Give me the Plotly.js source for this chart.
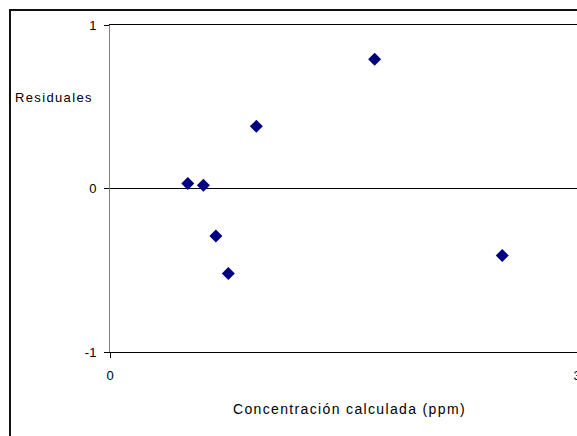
<!DOCTYPE html>
<html>
<head>
<meta charset="utf-8">
<script src="https://cdn.plot.ly/plotly-3.0.1.min.js"></script>
<style>
html,body{margin:0;padding:0;background:#fff;overflow:hidden;}
#wrap{position:relative;width:577px;height:436px;overflow:hidden;}
#chart{width:577px;height:436px;}
#frame{position:absolute;left:9px;top:9px;width:600px;height:500px;border-left:2px solid #111;border-top:2px solid #111;pointer-events:none;}
.annotation-text{letter-spacing:1.35px;}
</style>
</head>
<body>
<div id="wrap">
<div id="chart"></div>
<div id="frame"></div>
</div>
<script>
// Residual plot data
const concentracion = [0.50, 0.60, 0.68, 0.76, 0.94, 1.70, 2.52];
const residuales    = [0.03, 0.02, -0.29, -0.52, 0.38, 0.79, -0.41];
const xTickVals = [0, 3];
const yTickVals = [-1, 0, 1];
const xTitle = 'Concentración calculada (ppm)';
const yTitle = 'Residuales';

const FONT = 'Liberation Sans, Arial, sans-serif';

const trace = {
  x: concentracion,
  y: residuales,
  type: 'scatter',
  mode: 'markers',
  marker: {symbol: 'diamond', size: 10, color: '#000080', line: {width: 0}},
  hoverinfo: 'skip',
  cliponaxis: false
};

// pixel -> paper helpers (plot area: x 110..577, y 25..352)
const px2x = p => (p - 110) / 467;
const py2y = p => (352 - p) / 327;

const layout = {
  width: 577,
  height: 436,
  margin: {l: 110, r: 0, t: 25, b: 84, pad: 0},
  paper_bgcolor: '#ffffff',
  plot_bgcolor: '#ffffff',
  showlegend: false,
  font: {family: FONT, size: 13, color: '#000'},
  xaxis: {
    range: [0, 3],
    tickvals: xTickVals,
    ticktext: xTickVals.map(String),
    ticks: 'outside',
    ticklen: 5,
    tickcolor: '#000',
    tickwidth: 1,
    showline: true,
    mirror: true,
    linecolor: '#000',
    linewidth: 1,
    showgrid: false,
    zeroline: false,
    tickfont: {family: FONT, size: 13, color: '#000'},
    ticklabelstandoff: 6,
    ticklabeloverflow: 'allow',
    fixedrange: true
  },
  yaxis: {
    range: [-1, 1],
    tickvals: yTickVals,
    ticktext: yTickVals.map(String),
    ticks: 'outside',
    ticklen: 5,
    tickcolor: '#000',
    tickwidth: 1,
    showline: true,
    linecolor: '#808080',
    linewidth: 1,
    showgrid: true,
    gridcolor: '#000',
    gridwidth: 1,
    zeroline: true,
    zerolinecolor: '#000',
    zerolinewidth: 1,
    tickfont: {family: FONT, size: 13, color: '#000'},
    ticklabelstandoff: 5,
    ticklabeloverflow: 'allow',
    fixedrange: true
  },
  annotations: [
    {text: yTitle, xref: 'paper', yref: 'paper', x: px2x(12.5), y: py2y(97),
     xanchor: 'left', yanchor: 'middle', showarrow: false,
     font: {family: FONT, size: 13, color: '#000'}},
    {text: xTitle, xref: 'paper', yref: 'paper', x: px2x(349), y: py2y(409),
     xanchor: 'center', yanchor: 'middle', showarrow: false,
     font: {family: FONT, size: 14, color: '#000'}}
  ]
};

Plotly.newPlot('chart', [trace], layout, {displayModeBar: false, staticPlot: true});
</script>
</body>
</html>
